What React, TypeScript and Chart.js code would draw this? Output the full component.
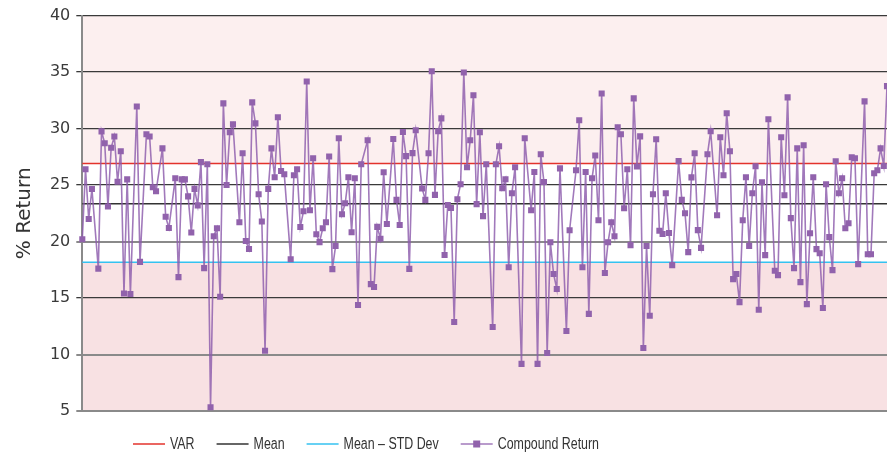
import React, { useEffect, useRef } from 'react';
import { Chart, registerables } from 'chart.js';

Chart.register(...registerables);

// Compound return per period (null = no observation in that period slot)
const COMPOUND_RETURN: (number | null)[] = [
  20.2, 26.4, 22.0, 24.65, null, 17.6, 29.75, 28.7, 23.1, 28.3,
  29.3, 25.3, 28.0, 15.4, 25.5, 15.35, null, 31.95, 18.2, null,
  29.5, 29.3, 24.8, 24.45, null, 28.25, 22.2, 21.2, null, 25.6,
  16.85, 25.5, 25.5, 24.0, 20.8, 24.66, 23.2, 27.03, 17.65, 26.84,
  5.33, 20.47, 21.18, 15.11, 32.23, 25.0, 29.68, 30.37, null, 21.71,
  27.81, 20.05, 19.34, 32.32, 30.46, 24.19, 21.78, 10.34, 24.66, 28.25,
  25.69, 31.0, 26.25, 25.96, null, 18.44, 25.87, 26.4, 21.28, 22.68,
  34.17, 22.77, 27.37, 20.65, 19.95, 21.17, 21.71, 27.53, 17.56, 19.6,
  29.14, 22.42, 23.39, 25.69, 20.83, 25.6, 14.38, 26.84, null, 28.96,
  16.23, 15.97, 21.3, 20.24, 26.13, 21.56, null, 29.07, 23.69, 21.47,
  29.69, 27.56, 17.58, 27.83, 29.85, null, 24.7, 23.69, 27.82, 35.08,
  24.13, 29.77, 30.9, 18.81, 23.24, 22.97, 12.88, 23.75, 25.07, 34.97,
  26.58, 28.96, 32.95, 23.31, 29.68, 22.25, 26.84, null, 12.43, 26.84,
  28.43, 24.72, 25.51, 17.73, 24.27, 26.58, null, 9.17, 29.14, null,
  22.77, 26.15, 9.17, 27.72, 25.27, 10.13, 19.94, 17.13, 15.8, 26.48,
  null, 12.08, 21.0, null, 26.31, 30.73, 17.72, 26.15, 13.6, 25.6,
  27.62, 21.89, 33.11, 17.22, 19.94, 21.71, 20.47, 30.11, 29.49, 22.95,
  26.4, 19.68, 32.67, 26.65, 29.31, 10.57, 19.6, 13.43, 24.19, 29.05,
  20.95, 20.67, 24.28, 20.75, 17.91, null, 27.12, 23.69, 22.5, 19.06,
  25.68, 27.81, 21.01, 19.44, null, 27.72, 29.76, null, 22.33, 29.23,
  25.87, 31.35, 27.99, 16.67, 17.12, 14.64, 21.89, 25.69, 19.62, 24.28,
  26.66, 13.96, 25.25, 18.8, 30.82, null, 17.41, 17.03, 29.23, 24.1,
  32.76, 22.07, 17.65, 28.25, 16.41, 28.52, 14.46, 20.74, 25.69, 19.33,
  18.97, 14.11, 25.07, 20.39, 17.47, 27.1, 24.28, 25.6, 21.18, 21.62,
  27.46, 27.37, 18.0, null, 32.41, 18.88, 18.88, 26.04, 26.31, 28.25,
  26.69, 33.76,
];

const VAR_VALUE = 26.9;
const MEAN_VALUE = 23.35;
const MEAN_STD_VALUE = 18.16;

const Y_MIN = 5;
const Y_MAX = 40;
const Y_STEP = 5;
const LIGHT_GRID_TICKS = [5, 10, 20];

const SERIES_NAMES = ['VAR', 'Mean', 'Mean \u2013 STD Dev', 'Compound Return'];
const PERIOD_LABELS = COMPOUND_RETURN.map((_, i) => String(i + 1));
const FIRST_LABEL = PERIOD_LABELS[0];
const LAST_LABEL = PERIOD_LABELS[PERIOD_LABELS.length - 1];

const COLORS = {
  var: '#e3332c',
  mean: '#333333',
  meanStd: '#35c2f0',
  line: 'rgba(140,92,172,0.82)',
  marker: '#9162ac',
  bandHigh: '#fcefef',
  bandLow: '#f8e1e3',
  text: '#333333',
};

// legend layout (drawn with canvas text by a small plugin)
const LEGEND = {
  startX: 133,
  centerY: 444,
  lineLen: 32,
  textGap: 5,
  itemGap: 22,
  font: '16px "Liberation Sans", Arimo, Arial, sans-serif',
  squeeze: 0.775,
  marker: 7,
};

const bandsPlugin = {
  id: 'bands',
  beforeDraw(chart: any) {
    const { ctx, chartArea, scales } = chart;
    const y = scales.y;
    const yVar = y.getPixelForValue(VAR_VALUE);
    const yStd = y.getPixelForValue(MEAN_STD_VALUE);
    const w = chartArea.right - chartArea.left;
    ctx.save();
    ctx.fillStyle = COLORS.bandHigh;
    ctx.fillRect(chartArea.left, chartArea.top, w, yVar - chartArea.top);
    ctx.fillStyle = COLORS.bandLow;
    ctx.fillRect(chartArea.left, yStd, w, chartArea.bottom - yStd);
    ctx.restore();
  },
};

const legendPlugin = {
  id: 'squeezedLegend',
  afterDraw(chart: any) {
    const { ctx } = chart;
    const datasets = chart.data.datasets;
    ctx.save();
    ctx.font = LEGEND.font;
    ctx.textBaseline = 'middle';
    ctx.textAlign = 'left';
    let x = LEGEND.startX;
    const y = LEGEND.centerY;
    datasets.forEach((ds: any) => {
      ctx.strokeStyle = ds.borderColor;
      ctx.lineWidth = 1.5;
      ctx.beginPath();
      ctx.moveTo(x, y);
      ctx.lineTo(x + LEGEND.lineLen, y);
      ctx.stroke();
      if (ds.pointRadius && ds.pointRadius > 0) {
        ctx.fillStyle = ds.pointBackgroundColor;
        const m = LEGEND.marker;
        ctx.fillRect(x + LEGEND.lineLen / 2 - m / 2, y - m / 2, m, m);
      }
      x += LEGEND.lineLen + LEGEND.textGap;
      const text = ds.label as string;
      const w = ctx.measureText(text).width * LEGEND.squeeze;
      ctx.save();
      ctx.translate(x, y + 1);
      ctx.scale(LEGEND.squeeze, 1);
      ctx.fillStyle = COLORS.text;
      ctx.fillText(text, 0, 0);
      ctx.restore();
      x += w + LEGEND.itemGap;
    });
    ctx.restore();
  },
};

export default function App() {
  const canvasRef = useRef<HTMLCanvasElement | null>(null);

  useEffect(() => {
    if (!canvasRef.current) return;

    const chart = new Chart(canvasRef.current, {
      type: 'line',
      data: {
        labels: PERIOD_LABELS,
        datasets: [
          {
            label: SERIES_NAMES[0],
            data: [{ x: FIRST_LABEL, y: VAR_VALUE }, { x: LAST_LABEL, y: VAR_VALUE }],
            borderColor: COLORS.var,
            backgroundColor: COLORS.var,
            borderWidth: 1.5,
            pointRadius: 0,
            order: 1,
          },
          {
            label: SERIES_NAMES[1],
            data: [{ x: FIRST_LABEL, y: MEAN_VALUE }, { x: LAST_LABEL, y: MEAN_VALUE }],
            borderColor: COLORS.mean,
            backgroundColor: COLORS.mean,
            borderWidth: 1.5,
            pointRadius: 0,
            order: 1,
          },
          {
            label: SERIES_NAMES[2],
            data: [{ x: FIRST_LABEL, y: MEAN_STD_VALUE }, { x: LAST_LABEL, y: MEAN_STD_VALUE }],
            borderColor: COLORS.meanStd,
            backgroundColor: COLORS.meanStd,
            borderWidth: 1.5,
            pointRadius: 0,
            order: 1,
          },
          {
            label: SERIES_NAMES[3],
            data: COMPOUND_RETURN,
            borderColor: COLORS.line,
            backgroundColor: COLORS.marker,
            borderWidth: 1.6,
            pointStyle: 'rect',
            pointRadius: 4.3,
            pointBorderWidth: 0,
            pointBackgroundColor: COLORS.marker,
            pointBorderColor: COLORS.marker,
            spanGaps: true,
            tension: 0,
            order: 0,
          },
        ],
      },
      options: {
        animation: false,
        responsive: true,
        maintainAspectRatio: false,
        events: [],
        layout: { autoPadding: false, padding: { top: 15, right: 0, bottom: 44, left: 0 } },
        scales: {
          x: {
            type: 'category',
            display: false,
            offset: false,
          },
          y: {
            min: Y_MIN,
            max: Y_MAX,
            ticks: {
              stepSize: Y_STEP,
              color: '#3a3a3a',
              padding: 6,
              font: { family: '"DejaVu Sans", sans-serif', size: 16 },
            },
            grid: {
              color: (ctx: any) =>
                LIGHT_GRID_TICKS.includes(ctx.tick?.value) ? '#8a8a8a' : '#3a3a3a',
              lineWidth: (ctx: any) =>
                LIGHT_GRID_TICKS.includes(ctx.tick?.value) ? 2 : 1.3,
              tickLength: 6,
              drawTicks: true,
            },
            border: { color: '#8a8a8a', width: 2 },
            title: {
              display: true,
              text: '% Return',
              color: COLORS.text,
              font: { family: '"DejaVu Sans", sans-serif', size: 20 },
              padding: { top: 13, bottom: 0 },
            },
            afterFit(scale: any) {
              scale.width = 82.3;
            },
          },
        },
        plugins: {
          tooltip: { enabled: false },
          legend: { display: false },
        },
      } as any,
      plugins: [bandsPlugin, legendPlugin],
    });

    return () => chart.destroy();
  }, []);

  return (
    <div style={{ position: 'fixed', left: 0, top: 0, width: 887, height: 455, background: '#ffffff' }}>
      <canvas ref={canvasRef} />
    </div>
  );
}
